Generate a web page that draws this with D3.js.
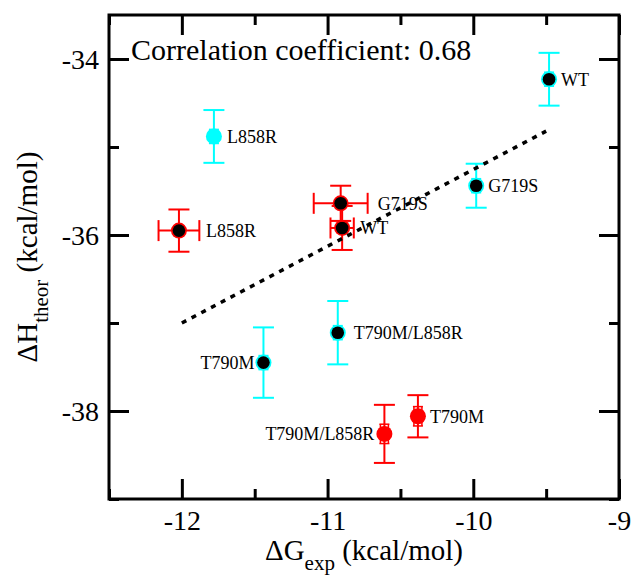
<!DOCTYPE html>
<html>
<head>
<meta charset="utf-8">
<script src="https://cdn.jsdelivr.net/npm/d3@7"></script>
<style>
  body { margin: 0; background: #fff; }
  svg { display: block; }
  svg text { font-family: "Liberation Serif", "Times New Roman", serif; }
</style>
</head>
<body>
<svg width="632" height="577"></svg>
<script>
// mutant names, same order in both sets
var mutants = ["WT", "L858R", "G719S", "T790M", "T790M/L858R"];

// cyan set
var cyanX = [-9.48, -11.78, -9.98, -11.44, -10.93];
var cyanY = [-34.23, -34.88, -35.44, -37.45, -37.11];
var cyanYErr = [0.30, 0.30, 0.25, 0.40, 0.36];
var cyanYErrInner = [0.08, 0.08, 0.08, 0.08, 0.08];
var cyanCore = [true, false, true, true, true];

// red set
var redX = [-10.90, -12.02, -10.91, -10.38, -10.61];
var redY = [-35.92, -35.95, -35.64, -38.06, -38.26];
var redYErr = [0.25, 0.24, 0.20, 0.24, 0.33];
var redXErr = [0.08, 0.14, 0.185, 0, 0];
var redYErrInner = [0, 0, 0, 0.11, 0.11];
var redCore = [true, true, true, false, false];

// regression line end points
var fitX = [-12, -9.5];
var fitY = [-37.0, -34.82];

var xMajor = [-12, -11, -10, -9];
var xMinor = [-12.5, -11.5, -10.5, -9.5];
var yMajor = [-38, -36, -34];
var yMinor = [-39, -37, -35];

var corrText = "Correlation coefficient: 0.68";

// label placement (pixels from the point)
var labelOffset = {
  "cyan-WT": 12, "cyan-L858R": 13, "cyan-G719S": 12, "cyan-T790M": -9, "cyan-T790M/L858R": 16,
  "red-WT": 18, "red-L858R": 27, "red-G719S": 37, "red-T790M": 12, "red-T790M/L858R": -10
};

var svg = d3.select("svg");
var margin = {left: 109, right: 13, top: 15, bottom: 78};
var width = 632, height = 577;
var plotW = width - margin.left - margin.right;
var plotH = height - margin.top - margin.bottom;

var x = d3.scaleLinear().domain([-12.5, -9]).range([0, plotW]);
var y = d3.scaleLinear().domain([-39, -33.5]).range([plotH, 0]);

var plot = svg.append("g").attr("transform", "translate(" + margin.left + "," + margin.top + ")");

// ticks, all pointing inward
function drawAxis(axis, tr, cls) {
  var g = plot.append("g").attr("class", cls).attr("transform", tr).call(axis);
  g.select(".domain").remove();
  g.selectAll("line").attr("stroke", "#000").attr("stroke-width", 3);
  g.attr("font-family", null);
  g.selectAll("text").attr("font-size", 28).attr("fill", "#000");
  return g;
}
var fmt = function(d) { return String(d); };

var xb = drawAxis(d3.axisBottom(x).tickValues(xMajor).tickSize(-20).tickPadding(12).tickFormat(fmt),
  "translate(0," + plotH + ")", "x-axis");
xb.selectAll("text").attr("dy", null).attr("y", 31);
drawAxis(d3.axisBottom(x).tickValues(xMinor).tickSize(-10).tickFormat(""), "translate(0," + plotH + ")", "x-minor");
drawAxis(d3.axisTop(x).tickValues(xMajor).tickSize(-20).tickFormat(""), "translate(0,0)", "x-top");
drawAxis(d3.axisTop(x).tickValues(xMinor).tickSize(-10).tickFormat(""), "translate(0,0)", "x-top-minor");

var yl = drawAxis(d3.axisLeft(y).tickValues(yMajor).tickSize(-20).tickPadding(10).tickFormat(fmt),
  "translate(0,0)", "y-axis");
yl.selectAll("text").attr("dy", "0.35em").attr("x", -10);
drawAxis(d3.axisLeft(y).tickValues(yMinor).tickSize(-10).tickFormat(""), "translate(0,0)", "y-minor");
drawAxis(d3.axisRight(y).tickValues(yMajor).tickSize(-20).tickFormat(""), "translate(" + plotW + ",0)", "y-right");
drawAxis(d3.axisRight(y).tickValues(yMinor).tickSize(-10).tickFormat(""), "translate(" + plotW + ",0)", "y-right-minor");

// frame
plot.append("rect")
  .attr("x", 0).attr("y", 0).attr("width", plotW).attr("height", plotH)
  .attr("fill", "none").attr("stroke", "#000").attr("stroke-width", 3);

// build point rows
function rows(set, xs, ys, yErr, xErr, yIn, core, color) {
  return mutants.map(function(m, i) {
    return {set: set, name: m, x: xs[i], y: ys[i], ye: yErr[i], xe: xErr ? xErr[i] : 0,
            yi: yIn[i], core: core[i], color: color};
  });
}
var points = rows("cyan", cyanX, cyanY, cyanYErr, null, cyanYErrInner, cyanCore, "#00ffff")
  .concat(rows("red", redX, redY, redYErr, redXErr, redYErrInner, redCore, "#ff0000"));

var cap = 10.5;
var pg = plot.selectAll("g.pt").data(points).enter().append("g").attr("class", "pt");

pg.each(function(d) {
  var g = d3.select(this);
  var cx = x(d.x), cy = y(d.y);
  function line(x1, y1, x2, y2, w) {
    g.append("line").attr("x1", x1).attr("y1", y1).attr("x2", x2).attr("y2", y2)
      .attr("stroke", d.color).attr("stroke-width", w || 2);
  }
  // y error bar
  var y0 = y(d.y - d.ye), y1 = y(d.y + d.ye);
  line(cx, y0, cx, y1);
  line(cx - cap, y0, cx + cap, y0);
  line(cx - cap, y1, cx + cap, y1);
  // x error bar
  if (d.xe > 0) {
    var x0 = x(d.x - d.xe), x1 = x(d.x + d.xe);
    line(x0, cy, x1, cy);
    line(x0, cy - cap, x0, cy + cap);
    line(x1, cy - cap, x1, cy + cap);
  }
  // small inner bar
  if (d.yi > 0) {
    var a = y(d.y - d.yi), b = y(d.y + d.yi);
    line(cx - 4, a, cx - 4, b, 1.5);
    line(cx + 4, a, cx + 4, b, 1.5);
    line(cx - 5, a, cx + 5, a, 1.5);
    line(cx - 5, b, cx + 5, b, 1.5);
  }
  g.append("circle").attr("cx", cx).attr("cy", cy).attr("r", 8).attr("fill", d.color);
  if (d.core) {
    g.append("circle").attr("cx", cx).attr("cy", cy).attr("r", 6.3).attr("fill", "#000");
  }
  var off = labelOffset[d.set + "-" + d.name];
  g.append("text")
    .attr("x", cx + off).attr("y", cy).attr("dy", "0.35em")
    .attr("text-anchor", off < 0 ? "end" : "start")
    .attr("font-size", 18).attr("fill", "#000")
    .text(d.name);
});

// regression line
plot.append("line")
  .attr("x1", x(fitX[0])).attr("y1", y(fitY[0]))
  .attr("x2", x(fitX[1])).attr("y2", y(fitY[1]))
  .attr("stroke", "#000").attr("stroke-width", 3.5)
  .attr("stroke-dasharray", "5,6");

// correlation text
plot.append("text")
  .attr("x", 22).attr("y", 45)
  .attr("font-size", 30).attr("fill", "#000")
  .text(corrText);

// axis labels
var xLab = svg.append("text")
  .attr("x", margin.left + plotW / 2).attr("y", 560)
  .attr("text-anchor", "middle").attr("font-size", 29);
xLab.append("tspan").text("\u0394G");
xLab.append("tspan").attr("font-size", 21).attr("dy", 10).text("exp");
xLab.append("tspan").attr("dy", -10).text(" (kcal/mol)");

var yLab = svg.append("text")
  .attr("transform", "translate(37," + (margin.top + plotH / 2) + ") rotate(-90)")
  .attr("text-anchor", "middle").attr("font-size", 29);
yLab.append("tspan").text("\u0394H");
yLab.append("tspan").attr("font-size", 21).attr("dy", 11).text("theor");
yLab.append("tspan").attr("dy", -11).text(" (kcal/mol)");
</script>
</body>
</html>
